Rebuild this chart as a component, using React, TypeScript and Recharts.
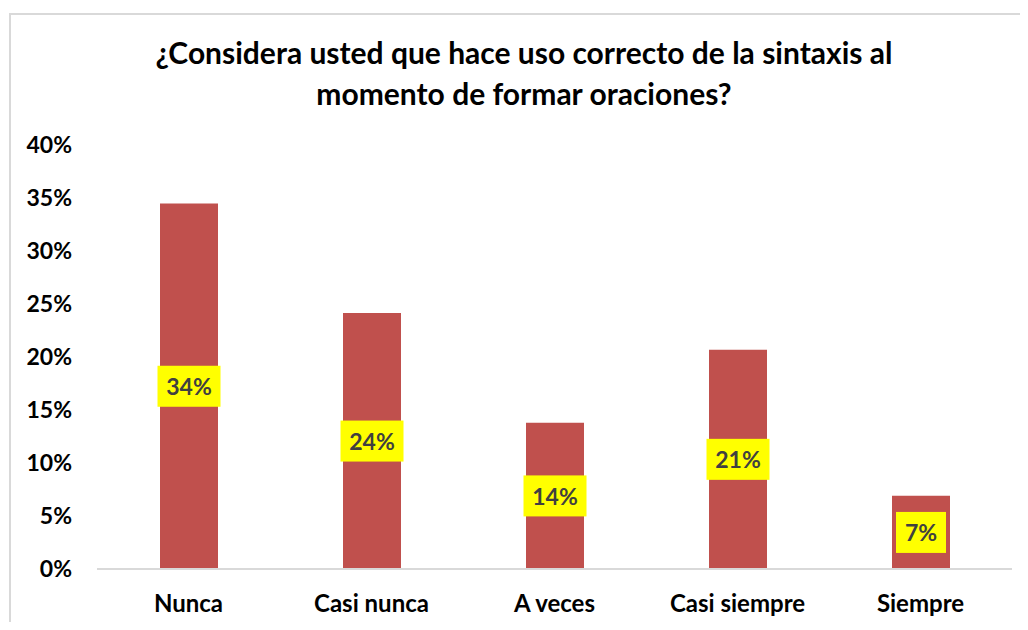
import { BarChart, Bar, XAxis, YAxis, LabelList } from "recharts";

const categories = ["Nunca", "Casi nunca", "A veces", "Casi siempre", "Siempre"];
// porcentaje de respuestas (10, 7, 4, 6 y 2 de 29)
const percentages = [34.48, 24.14, 13.79, 20.69, 6.9];
const yTicks = [0, 5, 10, 15, 20, 25, 30, 35, 40];

const data = categories.map((name, i) => ({ name, value: percentages[i] }));

const FONT = "Lato, 'Open Sans', sans-serif";

function YellowLabel(props: any) {
  const { x, y, width, height, value } = props;
  const text = `${Math.round(value)}%`;
  const digits = text.length - 1;
  const boxW = digits * 13 + 37;
  const boxH = 41;
  const cx = x + width / 2;
  const cy = y + height / 2;
  return (
    <g>
      <rect x={cx - boxW / 2} y={cy - boxH / 2} width={boxW} height={boxH} fill="#ffff00" />
      <text
        x={cx}
        y={cy}
        textAnchor="middle"
        dominantBaseline="central"
        fill="#404040"
        fontSize={23}
        fontWeight="bold"
        fontFamily={FONT}
      >
        {text}
      </text>
    </g>
  );
}

export default function App() {
  return (
    <div style={{ position: "relative", width: 1028, height: 630, margin: -8, overflow: "hidden", background: "#fff" }}>
      {/* marco del gráfico */}
      <div
        style={{
          position: "absolute",
          left: 9,
          top: 13,
          width: 1040,
          height: 640,
          borderTop: "2px solid #d9d9d9",
          borderLeft: "2px solid #d9d9d9",
        }}
      />
      <div
        style={{
          position: "absolute",
          left: 9,
          top: 32,
          width: 1030,
          textAlign: "center",
          fontFamily: FONT,
          fontWeight: "bold",
          fontSize: 30,
          lineHeight: "41px",
          color: "#000",
        }}
      >
        ¿Considera usted que hace uso correcto de la sintaxis al
        <br />
        momento de formar oraciones?
      </div>
      <div style={{ position: "absolute", left: 0, top: 0 }}>
        <BarChart
          width={1028}
          height={630}
          data={data}
          margin={{ top: 145, right: 16, bottom: 0, left: 0 }}
        >
          <XAxis
            dataKey="name"
            height={61}
            tickSize={0}
            tickMargin={26}
            axisLine={{ stroke: "#d9d9d9", strokeWidth: 2 }}
            tick={{ fill: "#000", fontSize: 24, fontWeight: "bold", fontFamily: FONT }}
          />
          <YAxis
            width={97}
            domain={[0, 40]}
            ticks={yTicks}
            tickFormatter={(v: number) => `${v}%`}
            axisLine={false}
            tickLine={false}
            tickSize={0}
            tickMargin={25}
            tick={{ fill: "#000", fontSize: 23, fontWeight: "bold", fontFamily: FONT }}
          />
          <Bar dataKey="value" fill="#c0504d" barSize={58} isAnimationActive={false}>
            <LabelList dataKey="value" content={<YellowLabel />} />
          </Bar>
        </BarChart>
      </div>
    </div>
  );
}
